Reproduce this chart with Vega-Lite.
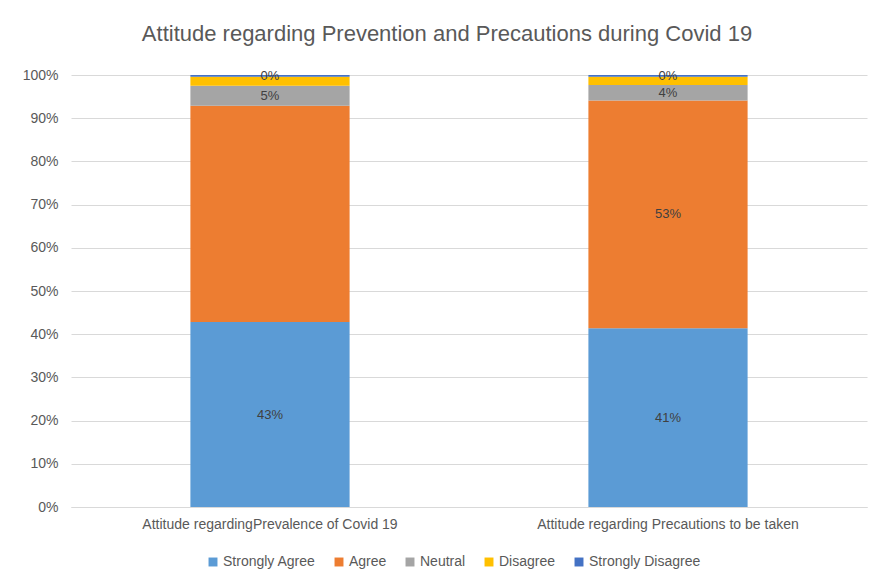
{
  "$schema": "https://vega.github.io/schema/vega-lite/v6.json",
  "width": 796,
  "height": 432,
  "autosize": {"type": "none"},
  "padding": {"left": 71, "top": 75, "right": 6, "bottom": 77},
  "background": "white",
  "config": {
    "font": "Liberation Sans",
    "view": {"stroke": null},
    "axis": {"labelFont": "Liberation Sans", "labelColor": "#595959", "labelFontSize": 14}
  },
  "title": {
    "text": "Attitude regarding Prevention and Precautions during Covid 19",
    "font": "Liberation Sans",
    "fontSize": 22,
    "fontWeight": "normal",
    "color": "#595959",
    "anchor": "middle",
    "offset": 22,
    "dx": -22
  },
  "data": {
    "values": [
      {"category": "Attitude regardingPrevalence of Covid 19", "response": "Strongly Agree", "rank": 1, "value": 42.8, "label": "43%"},
      {"category": "Attitude regardingPrevalence of Covid 19", "response": "Agree", "rank": 2, "value": 50.1, "label": ""},
      {"category": "Attitude regardingPrevalence of Covid 19", "response": "Neutral", "rank": 3, "value": 4.6, "label": "5%"},
      {"category": "Attitude regardingPrevalence of Covid 19", "response": "Disagree", "rank": 4, "value": 2.1, "label": ""},
      {"category": "Attitude regardingPrevalence of Covid 19", "response": "Strongly Disagree", "rank": 5, "value": 0.4, "label": "0%"},
      {"category": "Attitude regarding Precautions to be taken", "response": "Strongly Agree", "rank": 1, "value": 41.4, "label": "41%"},
      {"category": "Attitude regarding Precautions to be taken", "response": "Agree", "rank": 2, "value": 52.7, "label": "53%"},
      {"category": "Attitude regarding Precautions to be taken", "response": "Neutral", "rank": 3, "value": 3.6, "label": "4%"},
      {"category": "Attitude regarding Precautions to be taken", "response": "Disagree", "rank": 4, "value": 1.9, "label": ""},
      {"category": "Attitude regarding Precautions to be taken", "response": "Strongly Disagree", "rank": 5, "value": 0.4, "label": "0%"}
    ]
  },
  "transform": [
    {"stack": "value", "groupby": ["category"], "sort": [{"field": "rank", "order": "ascending"}], "offset": "normalize", "as": ["v0", "v1"]},
    {"calculate": "(datum.v0 + datum.v1) / 2", "as": "mid"}
  ],
  "encoding": {
    "x": {
      "field": "category",
      "type": "nominal",
      "sort": ["Attitude regardingPrevalence of Covid 19", "Attitude regarding Precautions to be taken"],
      "scale": {"paddingInner": 0.6, "paddingOuter": 0.3},
      "axis": {"title": null, "labelAngle": 0, "ticks": false, "domain": true, "domainColor": "#d9d9d9", "labelPadding": 10, "labelFontSize": 14, "labelLimit": 400}
    }
  },
  "layer": [
    {
      "mark": {"type": "bar"},
      "encoding": {
        "y": {
          "field": "v0",
          "type": "quantitative",
          "scale": {"domain": [0, 1], "nice": false},
          "axis": {"title": null, "format": ".0%", "values": [0, 0.1, 0.2, 0.3, 0.4, 0.5, 0.6, 0.7, 0.8, 0.9, 1], "domain": false, "ticks": false, "gridColor": "#d9d9d9", "labelPadding": 13, "labelFontSize": 14}
        },
        "y2": {"field": "v1"},
        "color": {
          "field": "response",
          "type": "nominal",
          "sort": ["Strongly Agree", "Agree", "Neutral", "Disagree", "Strongly Disagree"],
          "scale": {
            "domain": ["Strongly Agree", "Agree", "Neutral", "Disagree", "Strongly Disagree"],
            "range": ["#5B9BD5", "#ED7D31", "#A5A5A5", "#FFC000", "#4472C4"]
          },
          "legend": {
            "title": null,
            "orient": "none",
            "direction": "horizontal",
            "legendX": 135,
            "legendY": 480,
            "symbolType": "square",
            "symbolSize": 80,
            "symbolStrokeWidth": 0,
            "labelFont": "Liberation Sans",
            "labelFontSize": 14,
            "labelColor": "#595959",
            "labelOffset": 3,
            "columnPadding": 16
          }
        }
      }
    },
    {
      "mark": {"type": "text", "font": "Liberation Sans", "fontSize": 13, "color": "#404040", "baseline": "middle"},
      "encoding": {
        "y": {"field": "mid", "type": "quantitative"},
        "text": {"field": "label"}
      }
    }
  ]
}
